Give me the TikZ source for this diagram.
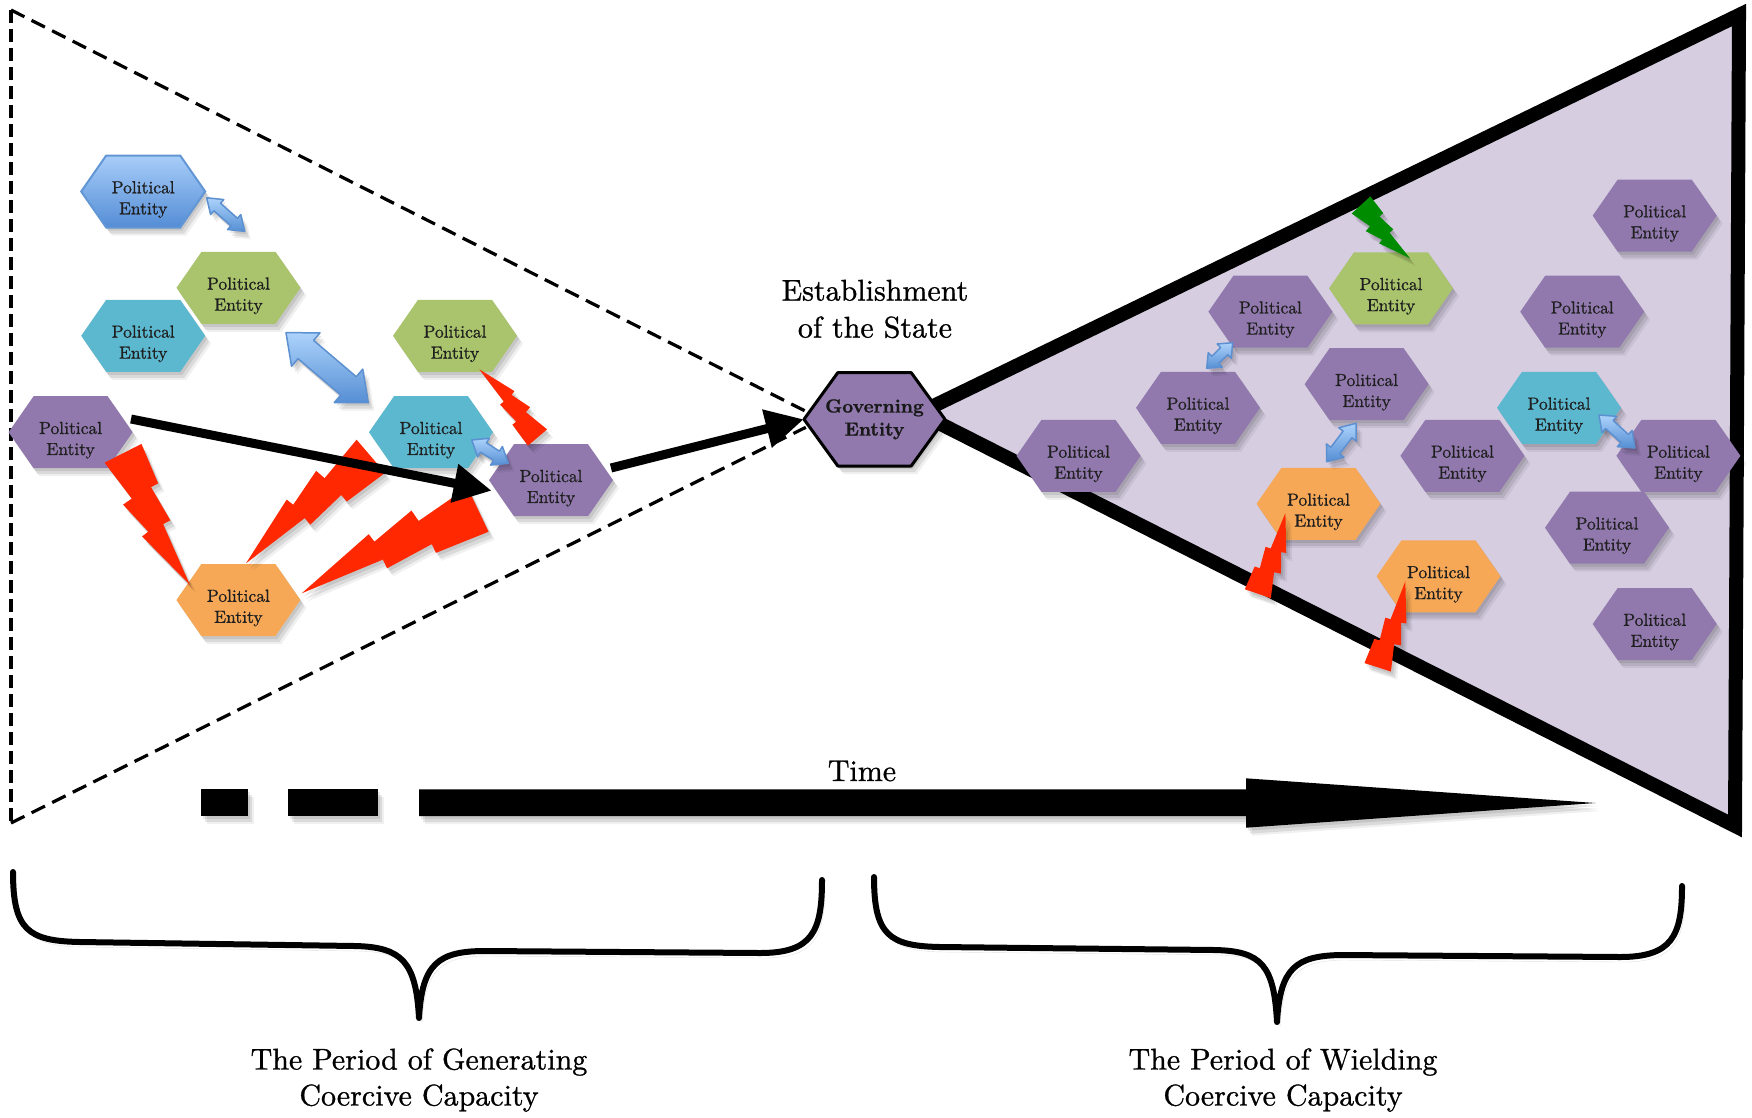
\documentclass[tikz,border=0pt]{standalone}
\usepackage{fontspec}
\setmainfont{lmroman10-regular.otf}[BoldFont=lmroman10-bold.otf, FakeBold=0.9]
\usetikzlibrary{calc,arrows.meta}
\pgfdeclarelayer{bg}
\pgfsetlayers{bg,main}
\definecolor{peBlueTop}{RGB}{168,205,249}
\definecolor{peBlueBot}{RGB}{84,141,214}
\definecolor{peBlueLine}{RGB}{98,150,212}
\definecolor{peGreen}{RGB}{169,196,108}
\definecolor{peTeal}{RGB}{91,184,207}
\definecolor{pePurple}{RGB}{145,121,174}
\definecolor{peOrange}{RGB}{246,168,87}
\definecolor{lav}{RGB}{214,205,225}
\definecolor{boltRed}{RGB}{255,40,0}
\definecolor{boltGreen}{RGB}{0,140,0}
\definecolor{arrTop}{RGB}{172,210,251}
\definecolor{arrBot}{RGB}{86,143,212}
\definecolor{arrLine}{RGB}{92,144,208}
\tikzset{
  shd/.style={preaction={fill=black,opacity=0.09,transform canvas={shift={(2pt,-3pt)}}},
              preaction={fill=black,opacity=0.09,transform canvas={shift={(4pt,-6pt)}}},
              preaction={fill=black,opacity=0.06,transform canvas={shift={(6pt,-8pt)}}}},
  lshd/.style={preaction={draw=black,opacity=0.12,transform canvas={shift={(3pt,-5pt)}}}},
  petext/.style={font=\fontsize{17.5}{21}\selectfont, align=center, text=black!88, inner sep=0pt, minimum width=124pt, minimum height=72pt},
  govtext/.style={font=\fontsize{19}{23}\selectfont\bfseries, align=center, text=black!90, inner sep=0pt, minimum width=141pt, minimum height=93pt},
  hexblue/.style={top color=peBlueTop, bottom color=peBlueBot, draw=peBlueLine, line width=2pt},
  hexgreen/.style={fill=peGreen},
  hexteal/.style={fill=peTeal},
  hexpurple/.style={fill=pePurple},
  hexorange/.style={fill=peOrange},
  blockarr/.style={shd, top color=arrTop, bottom color=arrBot, draw=arrLine, line width=1.5pt, line join=round},
  bigtext/.style={font=\fontsize{30}{37}\selectfont, align=center, inner sep=0pt},
  dline/.style={line width=3.2pt, dash pattern=on 15pt off 8pt},
  blackarr/.style={line width=9pt, -{Triangle[length=38pt,width=37pt]}},
  bracepath/.style={line width=6pt, line cap=round, line join=round, lshd},
}
\newcommand\pent[4]{%
  \path[shd,#4] (#2-62,#3) -- (#2-37,#3-36) -- (#2+37,#3-36) -- (#2+62,#3) -- (#2+37,#3+36) -- (#2-37,#3+36) -- cycle;
  \node[petext] (#1) at (#2,#3+8) {Political\\Entity};}
\newcommand\dblarr[5]{%
  \coordinate (h1) at ($(#1)!#3!(#2)$);
  \coordinate (h2) at ($(#2)!#3!(#1)$);
  \path[blockarr] (#1) -- ($(h1)!#4!90:(#2)$) -- ($(h1)!#5!90:(#2)$) -- ($(h2)!#5!-90:(#1)$) -- ($(h2)!#4!-90:(#1)$) -- (#2) -- ($(h2)!#4!90:(#1)$) -- ($(h2)!#5!90:(#1)$) -- ($(h1)!#5!-90:(#2)$) -- ($(h1)!#4!-90:(#2)$) -- cycle;}
\newcommand\bolt[6]{%
  \begin{scope}[shift={(#2,#3)}, x={({(#4-(#2))*1pt},{-(#5-(#3))*1pt})}, y={({-#6*(#5-(#3))*1pt},{-#6*(#4-(#2))*1pt})}]
    \fill[#1,shd] (0,0.14) -- (0.30,0.086) -- (0.31,0.157) -- (0.55,0.088) -- (0.56,0.14) -- (1,0) -- (0.55,-0.025) -- (0.55,-0.08) -- (0.29,-0.065) -- (0.29,-0.12) -- (0,-0.14) -- cycle;
  \end{scope}}
\begin{document}
\begin{tikzpicture}[x=1pt,y=-1pt]
\useasboundingbox (0,0) rectangle (1752,1117);
% ---------- left entities
\pent{pB}{143.2}{191.5}{hexblue}
\pent{pG1}{238.5}{287.8}{hexgreen}
\pent{pT1}{143.2}{335.8}{hexteal}
\pent{pG2}{455}{335.8}{hexgreen}
\pent{pL1}{70.6}{432.2}{hexpurple}
\pent{pT2}{431}{432.2}{hexteal}
\pent{pL2}{551}{480.2}{hexpurple}
\pent{pO}{238.4}{600}{hexorange}
% ---------- right entities
\pent{r1}{1654.7}{215.6}{hexpurple}
\pent{rG}{1391}{288.3}{hexgreen}
\pent{r2}{1270.4}{311.7}{hexpurple}
\pent{r3}{1582.2}{311.7}{hexpurple}
\pent{r4}{1366.6}{384.2}{hexpurple}
\pent{r5}{1198}{407.8}{hexpurple}
\pent{rT}{1559}{407.8}{hexteal}
\pent{r6}{1078.5}{455.8}{hexpurple}
\pent{r7}{1462.4}{455.8}{hexpurple}
\pent{r8}{1678.4}{455.8}{hexpurple}
\pent{rO1}{1318.5}{503.8}{hexorange}
\pent{r9}{1607}{527.7}{hexpurple}
\pent{rO2}{1438.5}{576.3}{hexorange}
\pent{r10}{1654.7}{624}{hexpurple}
% ---------- governing entity
\path[shd,fill=pePurple,draw=black,line width=3pt,line join=round] (804,419.3) -- (837.8,372.6) -- (911.2,372.6) -- (945,419.3) -- (911.2,466) -- (837.8,466) -- cycle;
\node[govtext] (gov) at (874.5,419.3) {Governing\\Entity};
% ---------- lightning bolts
\bolt{boltRed}{123}{453.3}{190}{585}{1}
\bolt{boltRed}{370.8}{456.3}{246}{563.3}{0.95}
\bolt{boltRed}{478}{509.5}{301.7}{593.3}{0.9}
\bolt{boltRed}{537.5}{437.5}{479.3}{369.3}{1}
\bolt{boltGreen}{1361}{205}{1410}{258.3}{1.25}
\bolt{boltRed}{1257.8}{593.7}{1285.4}{513}{1.15}
\bolt{boltRed}{1377.7}{667.3}{1405.3}{581.4}{1.1}
% ---------- blue double arrows
\coordinate (a1) at (206.7,197.8); \coordinate (b1) at (244.7,231.3);
\coordinate (a2) at (286,332.7);   \coordinate (b2) at (368.3,402.7);
\coordinate (a3) at (471.7,440);   \coordinate (b3) at (508.3,463.3);
\coordinate (a4) at (1232.7,342.7); \coordinate (b4) at (1206.7,368.3);
\coordinate (a5) at (1356,423.3);  \coordinate (b5) at (1326.7,461.7);
\coordinate (a6) at (1599,415);    \coordinate (b6) at (1635,448);
\dblarr{a1}{b1}{14pt}{10pt}{5pt}
\dblarr{a2}{b2}{26pt}{22pt}{12pt}
\dblarr{a3}{b3}{14pt}{11pt}{5.5pt}
\dblarr{a4}{b4}{12pt}{10pt}{5pt}
\dblarr{a5}{b5}{14pt}{11pt}{5.5pt}
\dblarr{a6}{b6}{14pt}{11pt}{5.5pt}
% ---------- black arrows
\draw[blackarr] ([shift={(60.4,-21.2)}]pL1.center) -- ([shift={(-59.3,2.5)}]pL2.center);
\draw[blackarr] ([shift={(60,-20.2)}]pL2.center) -- (gov.west);
% ---------- texts
\node[bigtext] (estab) at (875,309) {Establishment\\of the State};
\node[bigtext] (time) at (862,771) {Time};
\node[bigtext, font=\fontsize{30}{36}\selectfont] (per1) at (419,1080) {The Period of Generating\\Coercive Capacity};
\node[bigtext, font=\fontsize{30}{36}\selectfont] (per2) at (1283,1080) {The Period of Wielding\\Coercive Capacity};
% ---------- time arrow
\fill[shd] (201,789.3) rectangle (248,816);
\fill[shd] (288,789.3) rectangle (377.6,816);
\fill[shd] (419,789.3) -- (1246,789.3) -- (1246,778.3) -- (1595.5,803) -- (1246,827.7) -- (1246,816) -- (419,816) -- cycle;
% ---------- braces
\draw[bracepath] (13,872) .. controls (13,930) and (28,941) .. (80,942) -- (355,946) .. controls (402,947) and (416,962) .. (419,1018) .. controls (422,964) and (438,951) .. (485,951) -- (760,953) .. controls (812,953) and (822,932) .. (822,880);
\draw[bracepath] (874,877) .. controls (874,935) and (889,946) .. (940,947) -- (1215,950) .. controls (1262,951) and (1274,966) .. (1277,1022) .. controls (1280,968) and (1296,956) .. (1340,955) -- (1620,957) .. controls (1672,957) and (1682,936) .. (1682,886);
% ---------- background: triangles
\begin{pgfonlayer}{bg}
\fill[white] (0,0) rectangle (1752,1117);
\draw[shd, fill=lav, line width=14pt, line join=miter] (919,413) -- (1739,15) -- (1735,826) -- cycle;
\draw[dline] (11,10) -- ([shift={(2,-8)}]gov.west);
\draw[dline] (11,823) -- ([shift={(2,8)}]gov.west);
\draw[dline, dash pattern=on 13pt off 6pt] (11,10) -- (11,823);
\end{pgfonlayer}
\end{tikzpicture}
\end{document}
